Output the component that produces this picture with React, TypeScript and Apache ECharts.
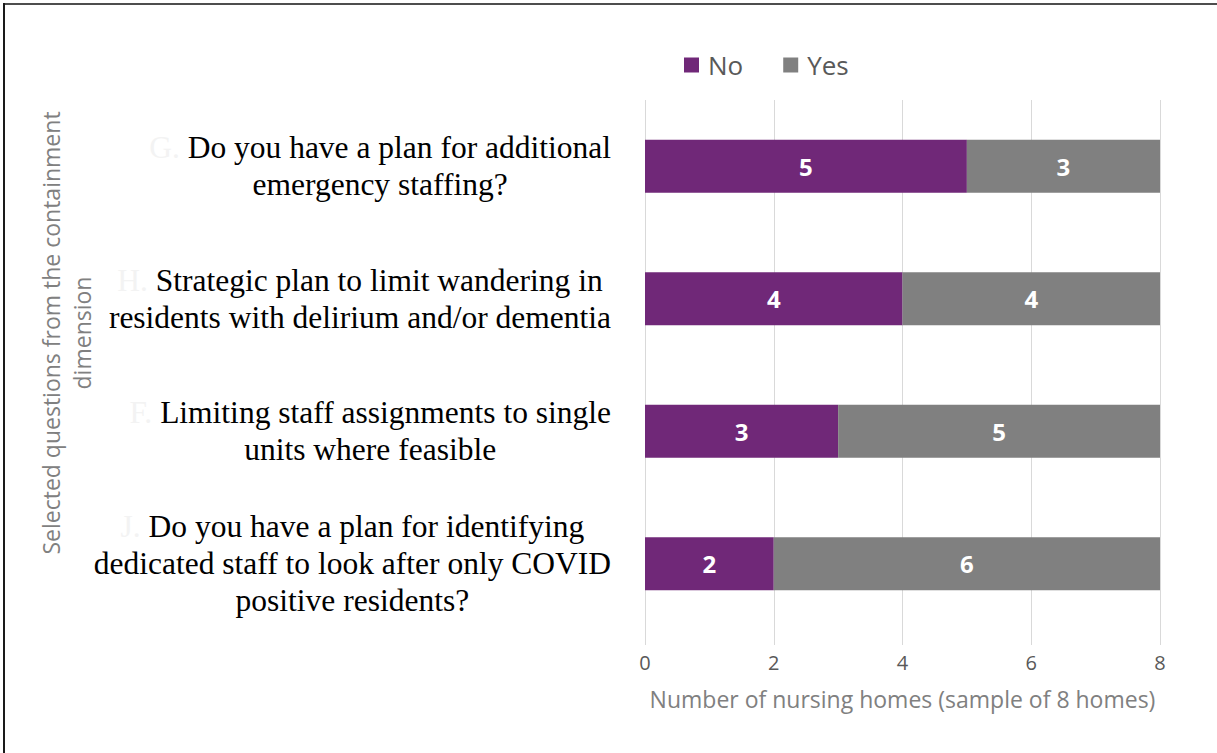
import React, { useEffect, useRef } from "react";
import * as echarts from "echarts";

const categories = [
  "Do you have a plan for additional\nemergency staffing?",
  "Strategic plan to limit wandering in\nresidents with delirium and/or dementia",
  "Limiting staff assignments to single\nunits where feasible",
  "Do you have a plan for identifying\ndedicated staff to look after only COVID\npositive residents?",
];
const prefixes = ["G.", "H.", "F.", "J."];
const noValues = [5, 4, 3, 2];
const yesValues = [3, 4, 5, 6];
const seriesNames = ["No", "Yes"];
const xTicks = { min: 0, max: 8, interval: 2 };
const xTitle = "Number of nursing homes (sample of 8 homes)";
const yTitle = "Selected questions from the containment\ndimension";

export default function App() {
  const ref = useRef<HTMLDivElement>(null);
  useEffect(() => {
    if (!ref.current) return;
    const chart = echarts.init(ref.current, null, { renderer: "svg" });
    const labelFont = "'Open Sans', sans-serif";
    const serif = "'Liberation Serif', 'Times New Roman', serif";
    const barLabel = {
      show: true,
      position: "inside",
      color: "#ffffff",
      fontFamily: labelFont,
      fontWeight: "bold",
      fontSize: 24,
    };
    chart.setOption({
      animation: false,
      backgroundColor: "#ffffff",
      legend: {
        data: seriesNames,
        left: 684,
        top: 52,
        padding: 0,
        icon: "rect",
        itemWidth: 15,
        itemHeight: 15,
        itemGap: 40,
        textStyle: {
          fontFamily: labelFont,
          fontSize: 26,
          color: "#595959",
          padding: [0, 0, 0, 4],
        },
      },
      grid: [
        { left: 645, right: 57, top: 100, height: 545 },
        { left: 645, right: 57, top: 100, height: 530 },
      ],
      xAxis: [
        {
          gridIndex: 0,
          type: "value",
          min: xTicks.min,
          max: xTicks.max,
          interval: xTicks.interval,
          axisLine: { show: false },
          axisTick: { show: false },
          splitLine: { lineStyle: { color: "#d9d9d9", width: 1 } },
          axisLabel: {
            fontFamily: labelFont,
            fontSize: 20,
            color: "#595959",
            margin: 7,
          },
          name: xTitle,
          nameLocation: "middle",
          nameGap: 42,
          nameTextStyle: {
            fontFamily: labelFont,
            fontSize: 23,
            color: "#808080",
          },
        },
        {
          gridIndex: 1,
          type: "value",
          min: xTicks.min,
          max: xTicks.max,
          interval: xTicks.interval,
          show: false,
        },
      ],
      yAxis: [
        {
          gridIndex: 0,
          type: "category",
          data: categories,
          show: false,
        },
        {
          gridIndex: 1,
          type: "category",
          inverse: true,
          data: categories,
          axisLine: { show: false },
          axisTick: { show: false },
          splitLine: { show: false },
          axisLabel: {
            margin: 34,
            formatter: (value: string, idx: number) => {
              const lines = value.split("\n");
              return lines
                .map((l, i) =>
                  i === 0 ? `{p|${prefixes[idx]} }{q|${l}}` : `{q|${l}}`
                )
                .join("\n");
            },
            rich: {
              p: {
                fontFamily: serif,
                fontSize: 31.5,
                lineHeight: 37,
                color: "#f3f3f3",
                align: "center",
              },
              q: {
                fontFamily: serif,
                fontSize: 31.5,
                lineHeight: 37,
                color: "#000000",
                align: "center",
              },
            },
          },
        },
      ],
      series: [
        {
          name: seriesNames[0],
          type: "bar",
          stack: "total",
          xAxisIndex: 1,
          yAxisIndex: 1,
          barWidth: 53,
          data: noValues,
          itemStyle: { color: "#702878" },
          label: barLabel,
        },
        {
          name: seriesNames[1],
          type: "bar",
          stack: "total",
          xAxisIndex: 1,
          yAxisIndex: 1,
          barWidth: 53,
          data: yesValues,
          itemStyle: { color: "#808080" },
          label: barLabel,
        },
      ],
      graphic: [
        {
          type: "text",
          x: 66,
          y: 333,
          rotation: Math.PI / 2,
          style: {
            text: yTitle,
            fontFamily: labelFont,
            fontSize: 23,
            fill: "#808080",
            align: "center",
            verticalAlign: "middle",
            lineHeight: 31,
          },
        },
        {
          type: "line",
          shape: { x1: 3, y1: 4, x2: 1217, y2: 4 },
          style: { stroke: "#4d4d4d", lineWidth: 2 },
        },
        {
          type: "line",
          shape: { x1: 4, y1: 3, x2: 4, y2: 753 },
          style: { stroke: "#1a1a1a", lineWidth: 2 },
        },
      ],
    });
    return () => chart.dispose();
  }, []);
  return (
    <div
      ref={ref}
      style={{ position: "fixed", left: 0, top: 0, width: 1217, height: 753 }}
    />
  );
}
